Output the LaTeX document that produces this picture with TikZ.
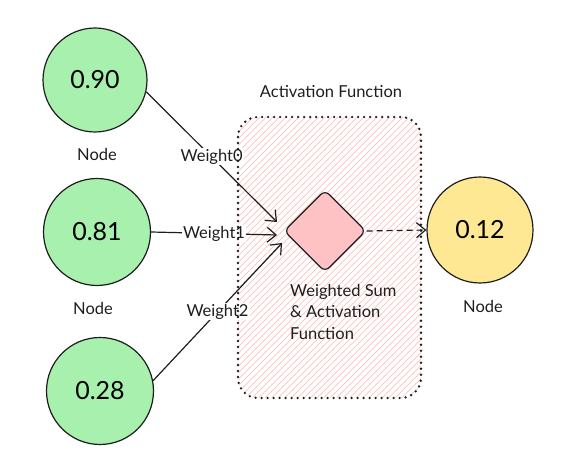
\documentclass[tikz,border=0pt]{standalone}
\usepackage{fontspec}
\setmainfont{Lato}
\usepackage{tikz}
\usetikzlibrary{arrows.meta, shapes.geometric}
\definecolor{neurongreen}{HTML}{A8F0AE}
\definecolor{outyellow}{HTML}{FFE893}
\definecolor{sumpink}{HTML}{FFC2C4}
\definecolor{hatchpink}{HTML}{FFB4B4}
\definecolor{inkgray}{HTML}{1E1E1E}
\tikzset{
  neuron/.style={circle, draw=inkgray, line width=1.2pt, fill=neurongreen, minimum size=104pt, inner sep=0pt, font=\fontsize{25}{29}\selectfont},
  outneuron/.style={neuron, fill=outyellow},
  caption/.style={font=\fontsize{16.5}{19}\selectfont, text=inkgray},
  sumbox/.style={diamond, draw=inkgray, line width=1.2pt, fill=sumpink, minimum size=82pt, inner sep=0pt, rounded corners=6pt},
  wire/.style={draw=inkgray, line width=1.2pt, -{Straight Barb[length=9pt,width=15pt,line width=1.2pt]}},
  wlabel/.style={fill=white, inner sep=1pt, font=\fontsize{16.5}{19}\selectfont, text=inkgray},
  group/.style={draw=inkgray, line width=2.6pt, line cap=round, dash pattern=on 0pt off 6pt, rounded corners=20pt},
  hatch/.style={hatchpink, line width=0.6pt}
}
\begin{document}
\begin{tikzpicture}[x=1pt, y=-1pt]
  \useasboundingbox (0,0) rectangle (574,470);
  % hatched area
  \begin{scope}
    \clip[rounded corners=20pt] (238,117) rectangle (421,398);
    \foreach \k in {-60,-53.5,...,440} \draw[hatch] (\k,398) -- ++(300,-300);
  \end{scope}
  \node[caption] (grouptitle) at (331,92) {Activation Function};
  % input nodes
  \node[neuron] (c0) at (95,80) {0.90};
  \node[neuron, minimum size=107pt] (c1) at (97,232) {0.81};
  \node[neuron, minimum size=107pt] (c2) at (100,391) {0.28};
  \node[caption] (lab0) at (97,154) {Node};
  \node[caption] (lab1) at (93,308) {Node};
  % sum and output
  \node[sumbox] (sum) at (325,231) {};
  \node[caption, anchor=north west, align=left, inner sep=0pt] (sumtext) at (290,284)
    {Weighted Sum\\[2.5pt]\& Activation\\[2.5pt]Function};
  \node[outneuron, minimum size=106pt] (out) at (480,230) {0.12};
  \node[caption] (lab2) at (483,306) {Node};
  % weights
  \coordinate (in0) at (277,222);
  \coordinate (in1) at (277,235);
  \coordinate (in2) at (282,243);
  \draw[wire] (c0.-13) -- node[wlabel] (w0) {Weight0} (in0);
  \draw[wire] (c1.east) -- node[wlabel] (w1) {Weight1} (in1);
  \draw[wire] (c2.11) -- node[wlabel] (w2) {Weight2} (in2);
  \draw[wire, dash pattern=on 6pt off 4pt] (sum.east) -- (out.west);
  % dotted frame
  \path[group] (238,117) rectangle (421,398);
\end{tikzpicture}
\end{document}
